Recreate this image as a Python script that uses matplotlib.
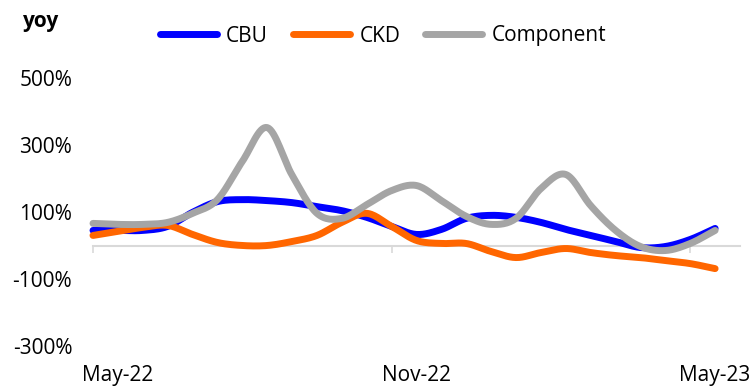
import numpy as np
import matplotlib.pyplot as plt

# half-month samples, May-22 .. May-23 (yoy, %)
cbu = [45, 45, 45, 57, 99, 131, 137, 134, 128, 116, 104, 84, 57,
       33, 48, 81, 90, 84, 69, 48, 30, 12, -6, -3, 18, 51]
ckd = [30, 42, 54, 60, 33, 9, 0, 0, 12, 30, 69, 96, 57,
       15, 6, 6, -18, -36, -21, -9, -21, -30, -36, -45, -54, -69]
component = [66, 63, 63, 69, 96, 137, 251, 352, 210, 96, 81, 122, 164,
             179, 134, 87, 63, 81, 170, 212, 119, 45, -3, -15, 6, 45]
x = np.arange(len(cbu)) * 0.5

series = ["CBU", "CKD", "Component"]
colors = ["#0000FF", "#FF6600", "#A5A5A5"]
yticks = [-300, -100, 100, 300, 500]
xlabels = ["May-22", "Nov-22", "May-23"]


def smooth(xs, ys, n=16):
    # Catmull-Rom spline through the points, like Excel's smoothed line
    p = np.column_stack([xs, ys]).astype(float)
    p = np.vstack([2 * p[0] - p[1], p, 2 * p[-1] - p[-2]])
    out = []
    t = np.linspace(0, 1, n, endpoint=False)[:, None]
    for i in range(1, len(p) - 2):
        p0, p1, p2, p3 = p[i - 1], p[i], p[i + 1], p[i + 2]
        seg = 0.5 * ((2 * p1) + (-p0 + p2) * t
                     + (2 * p0 - 5 * p1 + 4 * p2 - p3) * t ** 2
                     + (-p0 + 3 * p1 - 3 * p2 + p3) * t ** 3)
        out.append(seg)
    out.append(p[-2][None, :])
    out = np.vstack(out)
    return out[:, 0], out[:, 1]


plt.rcParams["font.family"] = ["Open Sans", "DejaVu Sans"]

fig = plt.figure(figsize=(7.55, 3.87), dpi=100)
ax = fig.add_axes([93 / 755, 41 / 387, 647 / 755, 268 / 387])

for name, vals, c in zip(series, [cbu, ckd, component], colors):
    sx, sy = smooth(x, vals)
    ax.plot(sx, sy, color=c, lw=5, solid_capstyle="round", label=name,
            clip_on=False)

ax.set_xlim(0, 13)
ax.set_ylim(-300, 500)
ax.set_yticks(yticks)
ax.set_yticklabels([f"{v}%" for v in yticks], fontsize=15)
ax.tick_params(axis="y", length=0, pad=15)

for s in ["left", "right", "top"]:
    ax.spines[s].set_visible(False)
ax.spines["bottom"].set_position(("data", 0))
ax.spines["bottom"].set_color("#D9D9D9")
ax.spines["bottom"].set_linewidth(1.5)
ax.spines["bottom"].set_zorder(0)
ax.set_xticks([0, 6, 12])
ax.set_xticklabels([])
ax.tick_params(axis="x", length=5, width=1.2, color="#D9D9D9")

sec = ax.secondary_xaxis(0.0)
sec.set_xticks([0.5, 6.5, 12.5])
sec.set_xticklabels(xlabels, fontsize=15)
sec.tick_params(length=0, pad=14)
sec.spines["bottom"].set_visible(False)

fig.text(23 / 755, 1 - 22 / 387, "yoy", fontsize=15, fontweight="bold",
         va="center", ha="left")

fig.legend(loc="center", bbox_to_anchor=(383 / 755, 1 - 36 / 387), ncol=3,
           frameon=False, fontsize=15, handlelength=2.75, handletextpad=0.43,
           columnspacing=1.2)

fig.savefig("out.png", dpi=100)
